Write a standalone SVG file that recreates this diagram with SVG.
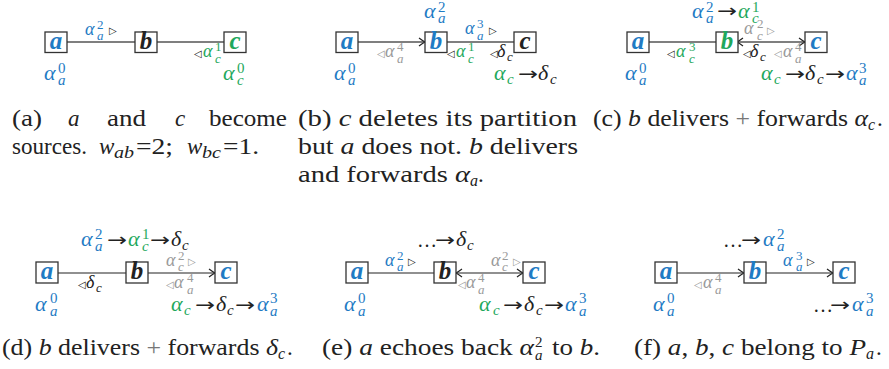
<svg xmlns="http://www.w3.org/2000/svg" width="889" height="369" viewBox="0 0 889 369">
<style>
text{font-family:"Liberation Serif","Times New Roman","DejaVu Serif",serif;fill:#222}
.i{font-style:italic}
.E{font-size:18px;font-style:italic}
.S{font-size:13px}
.Si{font-size:13px;font-style:italic}
.B{font-size:22px;font-style:italic}
.T{font-size:15px}
.Ti{font-size:15px;font-style:italic}
.ar{font-family:"DejaVu Sans",sans-serif;font-size:18px}
.tri{font-family:"DejaVu Sans",sans-serif;font-size:10px}
.dots{font-size:20px}
.bl{fill:#1f7bc4}.gr{fill:#1fa85c}.gy{fill:#9a9a9a}
.nd rect{fill:#fff;stroke:#333;stroke-width:1.3}
.nd text{font-size:25px;font-style:italic;font-weight:bold;text-anchor:middle}
.cap{font-size:23px}
.cs{font-size:16px;font-style:italic}
.pl{fill:#777}
.e1{stroke:#555;stroke-width:1.5;fill:none}
.e2{stroke:#222;stroke-width:1.1;fill:none}
</style>
<defs>
<marker id="ah" viewBox="-8 -5 10 10" refX="0" refY="0" markerWidth="10" markerHeight="10" markerUnits="userSpaceOnUse" orient="auto-start-reverse">
<path d="M-6,-4 Q-2,-1 0,0 Q-2,1 -6,4" fill="none" stroke="#222" stroke-width="1.2"/>
</marker>
</defs>

<g id="connectors">
<line class="e1" x1="67" y1="42" x2="135" y2="42"/>
<line class="e1" x1="157" y1="42" x2="224" y2="42"/>
<line class="e1" x1="357" y1="42" x2="425" y2="42" marker-end="url(#ah)"/>
<line class="e1" x1="447" y1="42" x2="514" y2="42"/>
<line class="e1" x1="648" y1="42" x2="716" y2="42"/>
<line class="e1" x1="737" y1="42" x2="805" y2="42" marker-start="url(#ah)" marker-end="url(#ah)"/>
<line class="e2" x1="58" y1="273" x2="126" y2="273"/>
<line class="e2" x1="147" y1="273" x2="215" y2="273" marker-end="url(#ah)"/>
<line class="e2" x1="367" y1="273" x2="434" y2="273"/>
<line class="e2" x1="456" y1="273" x2="523" y2="273" marker-start="url(#ah)" marker-end="url(#ah)"/>
<line class="e2" x1="676" y1="273" x2="744" y2="273" marker-end="url(#ah)"/>
<line class="e2" x1="765" y1="273" x2="833" y2="273" marker-end="url(#ah)"/>
</g>

<!-- panel a -->
<g id="node-a1" class="nd"><rect x="45" y="32" width="22" height="20.5"/><text x="56" y="49" class="bl">a</text></g>
<g id="node-b1" class="nd"><rect x="135" y="32" width="22" height="20.5"/><text x="146" y="49">b</text></g>
<g id="node-c1" class="nd"><rect x="224" y="32" width="22" height="20.5"/><text x="235" y="49" class="gr">c</text></g>
<g id="labels-a">
<text x="85" y="35" class="E bl">α</text><text x="97" y="29" class="S bl">2</text><text x="97" y="40" class="Si bl">a</text><text x="109" y="34" class="tri">▷</text>
<text x="194" y="57" class="tri">◁</text><text x="203" y="57" class="E gr">α</text><text x="215" y="51" class="S gr">1</text><text x="215" y="63" class="Si gr">c</text>
<text x="44" y="80" class="B bl">α</text><text x="58" y="73" class="T bl">0</text><text x="58" y="85" class="Ti bl">a</text>
<text x="223" y="80" class="B gr">α</text><text x="237" y="73" class="T gr">0</text><text x="237" y="85" class="Ti gr">c</text>
</g>

<!-- panel b -->
<g id="node-a2" class="nd"><rect x="336" y="32" width="22" height="20.5"/><text x="347" y="49" class="bl">a</text></g>
<g id="node-b2" class="nd"><rect x="425" y="32" width="22" height="20.5"/><text x="436" y="49" class="bl">b</text></g>
<g id="node-c2" class="nd"><rect x="514" y="32" width="22" height="20.5"/><text x="525" y="49">c</text></g>
<g id="labels-b">
<text x="424" y="18" class="B bl">α</text><text x="438" y="12" class="T bl">2</text><text x="438" y="23" class="Ti bl">a</text>
<text x="465" y="34" class="E bl">α</text><text x="477" y="28" class="S bl">3</text><text x="477" y="40" class="Si bl">a</text><text x="489" y="34" class="tri">▷</text>
<text x="377" y="57" class="tri gy">◁</text><text x="385" y="57" class="E gy">α</text><text x="397" y="51" class="S gy">4</text><text x="397" y="63" class="Si gy">a</text>
<text x="447" y="57" class="tri">◁</text><text x="456" y="57" class="E gr">α</text><text x="468" y="51" class="S gr">1</text><text x="468" y="63" class="Si gr">c</text>
<text x="490" y="57" class="tri">◁</text><text x="497" y="57" class="E">δ</text><text x="507" y="61" class="Si">c</text>
<text x="334" y="80" class="B bl">α</text><text x="348" y="73" class="T bl">0</text><text x="348" y="85" class="Ti bl">a</text>
<text x="494" y="80" class="B gr">α</text><text x="507" y="84" class="Ti gr">c</text><text x="518" y="80" class="ar" textLength="20" lengthAdjust="spacingAndGlyphs">→</text><text x="538" y="80" class="B">δ</text><text x="550" y="84" class="Ti">c</text>
</g>

<!-- panel c -->
<g id="node-a3" class="nd"><rect x="627" y="32" width="22" height="20.5"/><text x="638" y="49" class="bl">a</text></g>
<g id="node-b3" class="nd"><rect x="716" y="32" width="22" height="20.5"/><text x="727" y="49" class="gr">b</text></g>
<g id="node-c3" class="nd"><rect x="805" y="32" width="22" height="20.5"/><text x="816" y="49" class="bl">c</text></g>
<g id="labels-c">
<text x="692" y="18" class="B bl">α</text><text x="706" y="12" class="T bl">2</text><text x="706" y="23" class="Ti bl">a</text><text x="717" y="17" class="ar" textLength="20" lengthAdjust="spacingAndGlyphs">→</text><text x="738" y="18" class="B gr">α</text><text x="752" y="12" class="T gr">1</text><text x="752" y="23" class="Ti gr">c</text>
<text x="744" y="34" class="E gy">α</text><text x="757" y="28" class="S gy">2</text><text x="757" y="40" class="Si gy">c</text><text x="767" y="34" class="tri gy">▷</text>
<text x="667" y="57" class="tri">◁</text><text x="676" y="57" class="E gr">α</text><text x="689" y="51" class="S gr">3</text><text x="689" y="63" class="Si gr">c</text>
<text x="743" y="57" class="tri">◁</text><text x="750" y="57" class="E">δ</text><text x="760" y="61" class="Si">c</text>
<text x="774" y="57" class="tri gy">◁</text><text x="783" y="57" class="E gy">α</text><text x="795" y="51" class="S gy">4</text><text x="795" y="63" class="Si gy">a</text>
<text x="625" y="80" class="B bl">α</text><text x="639" y="73" class="T bl">0</text><text x="639" y="85" class="Ti bl">a</text>
<text x="761" y="80" class="B gr">α</text><text x="774" y="84" class="Ti gr">c</text><text x="785" y="80" class="ar" textLength="20" lengthAdjust="spacingAndGlyphs">→</text><text x="805" y="80" class="B">δ</text><text x="817" y="84" class="Ti">c</text><text x="825" y="80" class="ar" textLength="20" lengthAdjust="spacingAndGlyphs">→</text><text x="846" y="80" class="B bl">α</text><text x="859" y="73" class="T bl">3</text><text x="859" y="85" class="Ti bl">a</text>
</g>

<!-- panel d -->
<g id="node-a4" class="nd"><rect x="36" y="262" width="22" height="21"/><text x="47" y="279" class="bl">a</text></g>
<g id="node-b4" class="nd"><rect x="126" y="262" width="22" height="21"/><text x="137" y="279">b</text></g>
<g id="node-c4" class="nd"><rect x="215" y="262" width="22" height="21"/><text x="226" y="279" class="bl">c</text></g>
<g id="labels-d">
<text x="81" y="246" class="B bl">α</text><text x="95" y="239" class="T bl">2</text><text x="95" y="251" class="Ti bl">a</text><text x="107" y="246" class="ar" textLength="20" lengthAdjust="spacingAndGlyphs">→</text><text x="128" y="246" class="B gr">α</text><text x="142" y="239" class="T gr">1</text><text x="142" y="251" class="Ti gr">c</text><text x="150" y="246" class="ar" textLength="20" lengthAdjust="spacingAndGlyphs">→</text><text x="171" y="246" class="B">δ</text><text x="182" y="250" class="Ti">c</text>
<text x="166" y="266" class="E gy">α</text><text x="178" y="260" class="S gy">2</text><text x="178" y="271" class="Si gy">c</text><text x="188" y="265" class="tri gy">▷</text>
<text x="166" y="288" class="tri gy">◁</text><text x="174" y="288" class="E gy">α</text><text x="187" y="282" class="S gy">4</text><text x="187" y="294" class="Si gy">a</text>
<text x="78" y="288" class="tri">◁</text><text x="86" y="288" class="E">δ</text><text x="96" y="292" class="Si">c</text>
<text x="35" y="311" class="B bl">α</text><text x="50" y="303" class="T bl">0</text><text x="50" y="316" class="Ti bl">a</text>
<text x="171" y="311" class="B gr">α</text><text x="184" y="315" class="Ti gr">c</text><text x="195" y="311" class="ar" textLength="20" lengthAdjust="spacingAndGlyphs">→</text><text x="216" y="311" class="B">δ</text><text x="227" y="315" class="Ti">c</text><text x="235" y="311" class="ar" textLength="20" lengthAdjust="spacingAndGlyphs">→</text><text x="257" y="311" class="B bl">α</text><text x="270" y="303" class="T bl">3</text><text x="270" y="316" class="Ti bl">a</text>
</g>

<!-- panel e -->
<g id="node-a5" class="nd"><rect x="346" y="262" width="22" height="21"/><text x="357" y="279" class="bl">a</text></g>
<g id="node-b5" class="nd"><rect x="434" y="262" width="22" height="21"/><text x="445" y="279">b</text></g>
<g id="node-c5" class="nd"><rect x="523" y="262" width="22" height="21"/><text x="534" y="279" class="bl">c</text></g>
<g id="labels-e">
<text x="417" y="247" class="dots">…</text><text x="435" y="246" class="ar" textLength="20" lengthAdjust="spacingAndGlyphs">→</text><text x="456" y="246" class="B">δ</text><text x="467" y="250" class="Ti">c</text>
<text x="385" y="266" class="E bl">α</text><text x="397" y="260" class="S bl">2</text><text x="397" y="271" class="Si bl">a</text><text x="408" y="265" class="tri">▷</text>
<text x="491" y="266" class="E gy">α</text><text x="502" y="260" class="S gy">2</text><text x="502" y="271" class="Si gy">c</text><text x="513" y="265" class="tri gy">▷</text>
<text x="458" y="288" class="tri gy">◁</text><text x="466" y="288" class="E gy">α</text><text x="478" y="282" class="S gy">4</text><text x="478" y="294" class="Si gy">a</text>
<text x="344" y="311" class="B bl">α</text><text x="358" y="303" class="T bl">0</text><text x="358" y="316" class="Ti bl">a</text>
<text x="479" y="311" class="B gr">α</text><text x="493" y="315" class="Ti gr">c</text><text x="503" y="311" class="ar" textLength="20" lengthAdjust="spacingAndGlyphs">→</text><text x="524" y="311" class="B">δ</text><text x="536" y="315" class="Ti">c</text><text x="544" y="311" class="ar" textLength="20" lengthAdjust="spacingAndGlyphs">→</text><text x="565" y="311" class="B bl">α</text><text x="579" y="303" class="T bl">3</text><text x="579" y="316" class="Ti bl">a</text>
</g>

<!-- panel f -->
<g id="node-a6" class="nd"><rect x="655" y="262" width="22" height="21"/><text x="666" y="279" class="bl">a</text></g>
<g id="node-b6" class="nd"><rect x="744" y="262" width="22" height="21"/><text x="755" y="279" class="bl">b</text></g>
<g id="node-c6" class="nd"><rect x="833" y="262" width="22" height="21"/><text x="844" y="279" class="bl">c</text></g>
<g id="labels-f">
<text x="723" y="247" class="dots">…</text><text x="741" y="246" class="ar" textLength="20" lengthAdjust="spacingAndGlyphs">→</text><text x="763" y="246" class="B bl">α</text><text x="777" y="239" class="T bl">2</text><text x="777" y="251" class="Ti bl">a</text>
<text x="783" y="266" class="E bl">α</text><text x="796" y="260" class="S bl">3</text><text x="796" y="271" class="Si bl">a</text><text x="807" y="265" class="tri">▷</text>
<text x="694" y="288" class="tri gy">◁</text><text x="703" y="288" class="E gy">α</text><text x="715" y="282" class="S gy">4</text><text x="715" y="294" class="Si gy">a</text>
<text x="653" y="311" class="B bl">α</text><text x="667" y="303" class="T bl">0</text><text x="667" y="316" class="Ti bl">a</text>
<text x="813" y="312" class="dots">…</text><text x="830" y="311" class="ar" textLength="20" lengthAdjust="spacingAndGlyphs">→</text><text x="852" y="311" class="B bl">α</text><text x="866" y="303" class="T bl">3</text><text x="866" y="316" class="Ti bl">a</text>
</g>

<!-- captions -->
<g id="captions">
<text x="12" y="126" class="cap" textLength="30" lengthAdjust="spacingAndGlyphs">(a)</text>
<text x="68" y="126" class="cap i">a</text>
<text x="107" y="126" class="cap" textLength="39" lengthAdjust="spacingAndGlyphs">and</text>
<text x="175" y="126" class="cap i">c</text>
<text x="209" y="126" class="cap" textLength="78" lengthAdjust="spacingAndGlyphs">become</text>
<text x="12" y="154" class="cap" textLength="75" lengthAdjust="spacingAndGlyphs">sources.</text>
<text x="99" y="154" class="cap i">w</text><text x="114" y="158" class="cs" textLength="20" lengthAdjust="spacingAndGlyphs">ab</text>
<text x="136" y="154" class="cap" textLength="37" lengthAdjust="spacingAndGlyphs">=2;</text>
<text x="187" y="154" class="cap i">w</text><text x="202" y="158" class="cs" textLength="19" lengthAdjust="spacingAndGlyphs">bc</text>
<text x="223" y="154" class="cap" textLength="36" lengthAdjust="spacingAndGlyphs">=1.</text>

<text x="298" y="126" class="cap" textLength="279" lengthAdjust="spacingAndGlyphs">(b) <tspan class="i">c</tspan> deletes its partition</text>
<text x="298" y="154" class="cap" textLength="280" lengthAdjust="spacingAndGlyphs">but <tspan class="i">a</tspan> does not. <tspan class="i">b</tspan> delivers</text>
<text x="298" y="182" class="cap" textLength="172" lengthAdjust="spacingAndGlyphs">and forwards <tspan class="i">α</tspan></text><text x="470" y="186" class="cs">a</text><text x="478" y="182" class="cap">.</text>

<text x="593" y="126" class="cap" textLength="275" lengthAdjust="spacingAndGlyphs">(c) <tspan class="i">b</tspan> delivers <tspan class="pl">+</tspan> forwards <tspan class="i">α</tspan></text><text x="868" y="130" class="cs">c</text><text x="877" y="126" class="cap">.</text>

<text x="2" y="355" class="cap" textLength="276" lengthAdjust="spacingAndGlyphs">(d) <tspan class="i">b</tspan> delivers <tspan class="pl">+</tspan> forwards <tspan class="i">δ</tspan></text><text x="278" y="359" class="cs">c</text><text x="287" y="355" class="cap">.</text>

<text x="322" y="355" class="cap" textLength="212" lengthAdjust="spacingAndGlyphs">(e) <tspan class="i">a</tspan> echoes back <tspan class="i">α</tspan></text><text x="535" y="347" class="T">2</text><text x="535" y="360" class="Ti">a</text><text x="552" y="355" class="cap" textLength="48" lengthAdjust="spacingAndGlyphs">to <tspan class="i">b</tspan>.</text>

<text x="634" y="355" class="cap" textLength="232" lengthAdjust="spacingAndGlyphs">(f) <tspan class="i">a</tspan>, <tspan class="i">b</tspan>, <tspan class="i">c</tspan> belong to <tspan class="i">P</tspan></text><text x="866" y="359" class="cs">a</text><text x="876" y="355" class="cap">.</text>
</g>
</svg>
